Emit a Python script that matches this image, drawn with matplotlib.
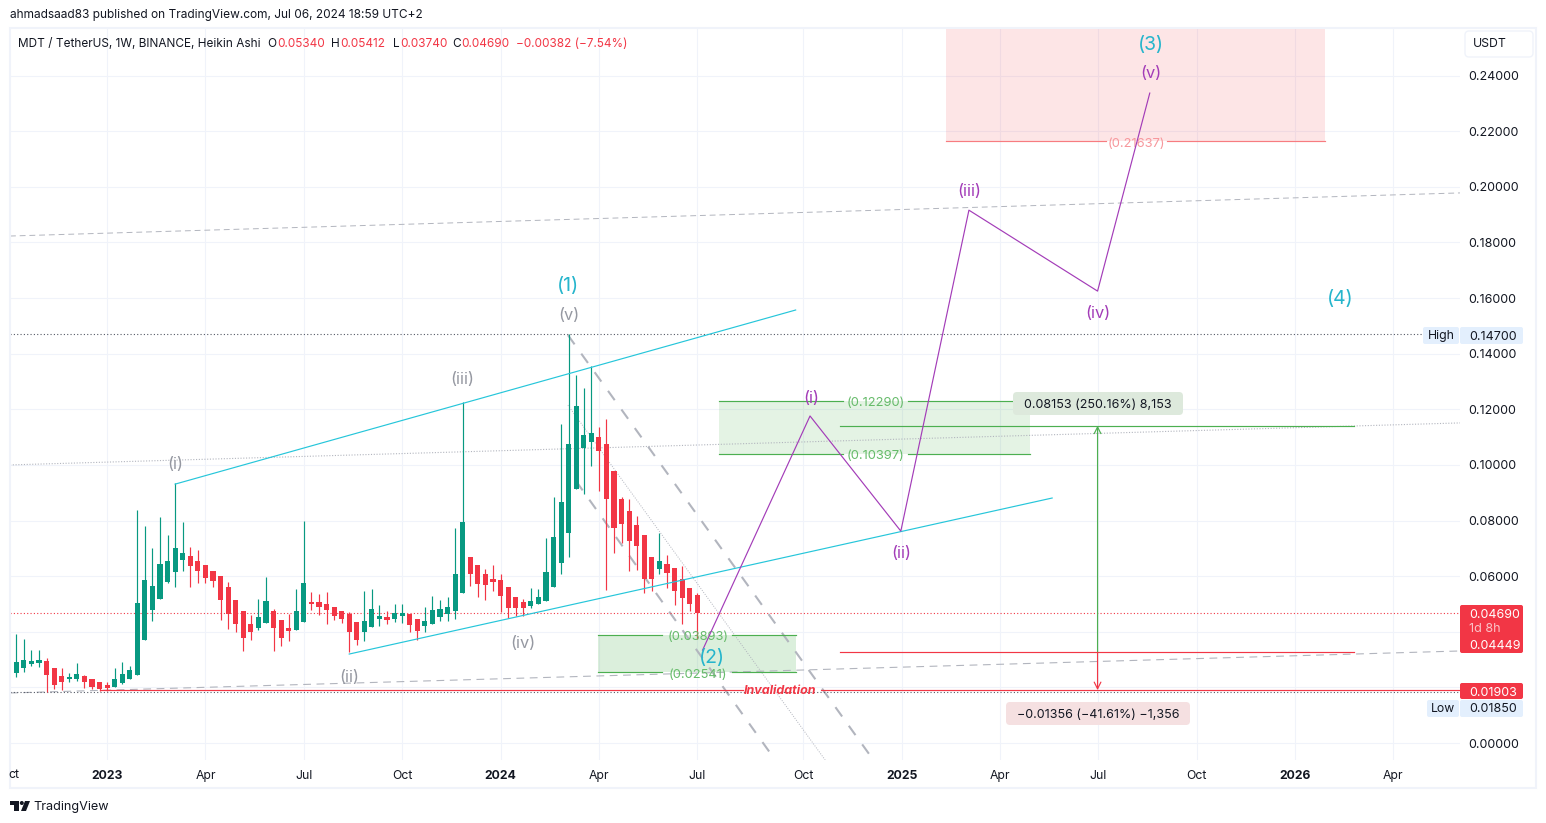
import matplotlib
matplotlib.use("Agg")
import matplotlib.pyplot as plt
from matplotlib.patches import Rectangle, FancyBboxPatch, Polygon, Circle

plt.rcParams["font.family"] = ["Inter", "DejaVu Sans"]

# weekly Heikin Ashi candles
opens = [.0252, .0270, .0284, .0288, .0295, .0270, .0241, .0230, .0230, .0241, .0230, .0219, .0209,
         .0201, .0216, .0230, .0244, .0370, .0478, .0518, .0579, .0615, .0658, .0672, .0654, .0640,
         .0618, .0600, .0561, .0514, .0475, .0428, .0413, .0431, .0475, .0442, .0413, .0406, .0435,
         .0507, .0507, .0500, .0489, .0475, .0464, .0435, .0399, .0417, .0446, .0453, .0446, .0457,
         .0464, .0446, .0421, .0428, .0453, .0464, .0475, .0539, .0669, .0640, .0608, .0590, .0586,
         .0561, .0525, .0507, .0493, .0500, .0511, .0561, .0647, .0755, .0913, .1061, .1082, .1100,
         .1075, .0978, .0877, .0834, .0784, .0748, .0669, .0626, .0644, .0629, .0590, .0557, .0534]
highs = [.0392, .0374, .0334, .0334, .0306, .0270, .0270, .0252, .0288, .0244, .0230, .0219, .0219,
         .0270, .0291, .0277, .0838, .0780, .0701, .0813, .0748, .0934, .0795, .0705, .0694, .0640,
         .0618, .0600, .0579, .0514, .0475, .0460, .0518, .0597, .0482, .0442, .0464, .0554, .0798,
         .0543, .0536, .0543, .0489, .0475, .0471, .0435, .0547, .0554, .0496, .0475, .0500, .0500,
         .0464, .0446, .0489, .0529, .0514, .0525, .0773, .1226, .0669, .0640, .0626, .0640, .0608,
         .0561, .0525, .0518, .0557, .0554, .0737, .0884, .1147, .1470, .1323, .1276, .1354, .1136,
         .1165, .0978, .0884, .0877, .0816, .0748, .0669, .0755, .0676, .0629, .0636, .0557, .05412]
lows = [.0237, .0255, .0277, .0273, .0185, .0194, .0191, .0219, .0223, .0198, .0194, .0186, .0186,
        .0201, .0212, .0230, .0244, .0370, .0439, .0518, .0575, .0561, .0618, .0561, .0575, .0575,
        .0561, .0442, .0410, .0399, .0331, .0370, .0406, .0431, .0331, .0349, .0367, .0406, .0435,
        .0478, .0460, .0428, .0442, .0431, .0327, .0352, .0367, .0417, .0421, .0428, .0435, .0431,
        .0399, .0370, .0399, .0428, .0439, .0439, .0446, .0539, .0565, .0525, .0514, .0547, .0471,
        .0449, .0457, .0457, .0485, .0500, .0511, .0561, .0608, .0669, .0913, .0895, .0996, .0906,
        .0550, .0683, .0719, .0618, .0622, .0539, .0547, .0608, .0557, .0496, .0428, .0475, .0374]
closes = [.0291, .0298, .0295, .0298, .0244, .0209, .0219, .0237, .0248, .0219, .0201, .0194, .0198,
          .0230, .0248, .0262, .0503, .0586, .0565, .0644, .0654, .0701, .0683, .0636, .0618, .0593,
          .0582, .0514, .0464, .0428, .0378, .0399, .0453, .0511, .0413, .0378, .0403, .0475, .0575,
          .0500, .0489, .0478, .0457, .0446, .0399, .0370, .0439, .0482, .0457, .0442, .0467, .0467,
          .0424, .0403, .0439, .0478, .0482, .0489, .0608, .0795, .0608, .0572, .0568, .0579, .0529,
          .0485, .0485, .0485, .0511, .0525, .0615, .0741, .0867, .1075, .1212, .1107, .1115, .1050,
          .0877, .0773, .0787, .0726, .0708, .0590, .0590, .0654, .0611, .0547, .0521, .0500, .0469]

price_ticks = [0.0, 0.02, 0.04, 0.06, 0.08, 0.10, 0.12, 0.14, 0.16, 0.18, 0.20, 0.22, 0.24]
price_labels = ["0.00000", "", "", "0.06000", "0.08000", "0.10000", "0.12000", "0.14000",
                "0.16000", "0.18000", "0.20000", "0.22000", "0.24000"]
time_ticks = [12, 25, 38, 51, 64, 77, 90, 104, 117, 130, 143, 156, 169, 182]
time_labels = ["2023", "Apr", "Jul", "Oct", "2024", "Apr", "Jul", "Oct", "2025", "Apr", "Jul",
               "Oct", "2026", "Apr"]
bold_years = ["2023", "2024", "2025", "2026"]

# drawings, x in weeks from the first candle, y in price
upper_x, upper_y = [21, 103], [.0931, .1557]
lower_x, lower_y = [44, 136.9], [.0320, .0881]
wave_x = [90.7, 104.9, 116.9, 125.9, 142.9, 149.8]
wave_y = [.0334, .1176, .0762, .1916, .1625, .2337]
dash_top_x, dash_top_y = [-0.83, 190.8], [.1823, .1978]
dash_low_x, dash_low_y = [-0.83, 190.8], [.0180, .0331]
dot_mid_x, dot_mid_y = [-0.83, 190.8], [.1000, .1151]
fork_right_x, fork_right_y = [72.9, 112.8], [.1467, -.0043]
fork_left_x, fork_left_y = [73.97, 100.3], [.0942, -.0061]
fork_dot_x, fork_dot_y = [72.9, 106.9], [.1215, -.0061]

last_price = 0.0469
high_price = 0.147
low_price = 0.0185
stop_price = 0.01903
entry_price = 0.03259
target_price = 0.11412
pos_x = [108.9, 176.8]
arrow_x = 142.9

cyan_labels = [("(1)", 72.9, .1643), ("(2)", 91.9, .0306), ("(3)", 149.9, .2510), ("(4)", 174.9, .1597)]
gray_labels = [("(i)", 21, .1002), ("(ii)", 44, .0236), ("(iii)", 59, .1307), ("(iv)", 67, .0358), ("(v)", 73, .1537)]
purple_labels = [("(i)", 105, .1239), ("(ii)", 117, .0682), ("(iii)", 126, .1983), ("(iv)", 143, .1545), ("(v)", 150, .2408)]

GREEN = "#089981"
RED = "#f23645"
CYAN = "#26c6da"
PURPLE = "#a33cb8"
GRAY = "#b2b5be"
FIB_GREEN = "#4caf50"
TXT = "#131722"
GRID = "#f0f3fa"

fig = plt.figure(figsize=(15.46, 8.23), dpi=100, facecolor="white")
ax = fig.add_axes([10 / 1546, 63 / 823, 1450 / 1546, 732 / 823])
ax.set_xlim(-0.83, 190.8)
ax.set_ylim(-0.0061, 0.2571)
for s in ax.spines.values():
    s.set_visible(False)
ax.set_axisbelow(True)
ax.grid(True, color=GRID, lw=0.75)
ax.set_yticks(price_ticks, price_labels)
ax.set_xticks(time_ticks, time_labels)
ax.yaxis.tick_right()
ax.tick_params(axis="y", length=0, pad=6, labelsize=9.0, labelcolor=TXT)
ax.tick_params(axis="x", length=0, pad=7.5, labelsize=8.8, labelcolor=TXT)
for lab in ax.get_xticklabels():
    if lab.get_text() in bold_years:
        lab.set_fontweight("bold")

# candles
for i in range(len(opens)):
    col = GREEN if closes[i] >= opens[i] else RED
    ax.vlines(i, lows[i], highs[i], color=col, lw=0.85, zorder=3)
    ax.bar(i, abs(closes[i] - opens[i]), bottom=min(opens[i], closes[i]), width=0.68, color=col, lw=0, zorder=3)

# fib boxes
ax.add_patch(Rectangle((76.9, .02541), 26.1, .03893 - .02541, fc="#4caf50", alpha=0.2, lw=0, zorder=1))
ax.add_patch(Rectangle((92.9, .10397), 41.1, .1229 - .10397, fc="#4caf50", alpha=0.15, lw=0, zorder=1))
ax.add_patch(Rectangle((122.9, .21637), 50.0, .0407, fc="#f23645", alpha=0.13, lw=0, zorder=1))
for y in [.03893, .02541]:
    ax.plot([76.9, 85.3], [y, y], color=FIB_GREEN, lw=0.85, zorder=4)
    ax.plot([94.6, 103], [y, y], color=FIB_GREEN, lw=0.85, zorder=4)
    ax.text(90.1, y - .0008, f"({y:.5f})", color="#66bb6a", fontsize=9.3, ha="center", va="center", zorder=5)
for y in [.1229, .10397]:
    ax.plot([92.9, 109.2], [y, y], color=FIB_GREEN, lw=0.85, zorder=4)
    ax.plot([117.8, 134], [y, y], color=FIB_GREEN, lw=0.85, zorder=4)
    ax.text(113.6, y - .0008, f"({y:.5f})", color="#66bb6a", fontsize=9.3, ha="center", va="center", zorder=5)
ax.plot([122.9, 144], [.21637, .21637], color="#f77c80", lw=0.85, zorder=4)
ax.plot([152.1, 172.9], [.21637, .21637], color="#f77c80", lw=0.85, zorder=4)
ax.text(148, .21557, "(0.21637)", color="#f7979c", fontsize=9.3, ha="center", va="center", zorder=5)

# trend lines
ax.plot(upper_x, upper_y, color=CYAN, lw=0.85, zorder=4)
ax.plot(lower_x, lower_y, color=CYAN, lw=0.85, zorder=4)
ax.plot(dash_top_x, dash_top_y, color=GRAY, lw=0.7, ls=(0, (6, 4)), zorder=2)
ax.plot(dash_low_x, dash_low_y, color=GRAY, lw=0.8, ls=(0, (7, 5)), zorder=2)
ax.plot(dot_mid_x, dot_mid_y, color=GRAY, lw=0.8, ls=(0, (1, 1.5)), zorder=2)
ax.plot(fork_right_x, fork_right_y, color=GRAY, lw=1.5, ls=(0, (5.5, 5.5)), zorder=2)
ax.plot(fork_left_x, fork_left_y, color=GRAY, lw=1.5, ls=(0, (5.5, 5.5)), zorder=2)
ax.plot(fork_dot_x, fork_dot_y, color=GRAY, lw=0.7, ls=(0, (1, 1.5)), zorder=2)
ax.plot(wave_x, wave_y, color=PURPLE, lw=0.85, zorder=5)

# horizontal price lines
ax.axhline(last_price, color=RED, lw=0.8, ls=(0, (1, 2)), zorder=2)
ax.axhline(high_price, color="#555a66", lw=0.8, ls=(0, (1, 2)), zorder=2)
ax.axhline(low_price, color="#555a66", lw=0.8, ls=(0, (1, 2)), zorder=2)
ax.plot([11, 96], [stop_price, stop_price], color=RED, lw=0.85, zorder=4)
ax.plot([106.3, 190.8], [stop_price, stop_price], color=RED, lw=0.85, zorder=4)
ax.text(100.9, stop_price - .0003, "Invalidation", color=RED, fontsize=9.0, fontweight="bold", fontstyle="italic",
        ha="center", va="center", zorder=6)

# long position tool
ax.plot(pos_x, [target_price, target_price], color=FIB_GREEN, lw=0.85, zorder=4)
ax.plot(pos_x, [entry_price, entry_price], color=RED, lw=0.85, zorder=4)
ax.annotate("", (arrow_x, target_price), (arrow_x, entry_price),
            arrowprops=dict(arrowstyle="->", color=FIB_GREEN, lw=0.85, shrinkA=0, shrinkB=0, mutation_scale=12), zorder=5)
ax.annotate("", (arrow_x, stop_price), (arrow_x, entry_price),
            arrowprops=dict(arrowstyle="->", color=RED, lw=0.85, shrinkA=0, shrinkB=0, mutation_scale=12), zorder=5)

# wave labels
for t, x, y in cyan_labels:
    ax.text(x, y, t, color="#26b5cc", fontsize=14, ha="center", va="center", zorder=7)
for t, x, y in gray_labels:
    ax.text(x, y, t, color="#9598a1", fontsize=11.8, ha="center", va="center", zorder=7)
for t, x, y in purple_labels:
    ax.text(x, y, t, color=PURPLE, fontsize=11.8, ha="center", va="center", zorder=7)

# everything around the plot, in pixels
top = fig.add_axes([0, 0, 1, 1], zorder=10)
top.set_xlim(0, 1546)
top.set_ylim(823, 0)
top.axis("off")
top.patch.set_alpha(0)
top.add_patch(Rectangle((10, 27.5), 1526, 760.5, fc="none", ec=GRID, lw=1.5))


def tag(x0, y0, x1, y1, fc, r=2):
    top.add_patch(FancyBboxPatch((x0 + r, y0 + r), x1 - x0 - 2 * r, y1 - y0 - 2 * r,
                                 boxstyle=f"round,pad={r},rounding_size={r}", fc=fc, ec="none"))


tag(1460, 605, 1523, 653, RED)
tag(1460, 683, 1523, 699, RED)
tag(1460, 700, 1523, 717, "#e3effd")
tag(1427, 700, 1459, 717, "#e3effd")
tag(1460, 327, 1523, 344, "#e3effd")
tag(1423, 327, 1459, 344, "#e3effd")
for txt, y, col in [("0.04690", 615, "white"), ("1d 8h", 629, "#fbc4c8"), ("0.04449", 646, "white"),
                    ("0.01903", 692.5, "white"), ("0.01850", 709.5, TXT), ("0.14700", 337, TXT)]:
    top.text(1469, y, txt, color=col, fontsize=9.0, ha="left", va="center")
top.text(1443, 709, "Low", color=TXT, fontsize=8.8, ha="center", va="center")
top.text(1441, 336, "High", color=TXT, fontsize=8.8, ha="center", va="center")
top.text(13.5, 775.5, "ct", color=TXT, fontsize=8.8, ha="center", va="center")

# position labels
tag(1013, 392, 1183, 415, "#dde9dc", r=4)
top.text(1098, 404.5, "0.08153 (250.16%) 8,153", color=TXT, fontsize=9.0, ha="center", va="center")
tag(1006, 702, 1190, 725, "#f5e0e1", r=4)
top.text(1098, 714.5, "\u22120.01356 (\u221241.61%) \u22121,356", color=TXT, fontsize=9.0, ha="center", va="center")

# currency button
top.add_patch(FancyBboxPatch((1468, 34), 62, 20, boxstyle="round,pad=3,rounding_size=4", fc="white", ec=GRID, lw=1))
top.text(1473, 44, "USDT", color=TXT, fontsize=8.8, ha="left", va="center")

# header and legend
top.text(10, 15, "ahmadsaad83 published on TradingView.com, Jul 06, 2024 18:59 UTC+2", color=TXT,
         fontsize=8.55, ha="left", va="center")
top.text(18, 44, "MDT / TetherUS, 1W, BINANCE, Heikin Ashi", color=TXT, fontsize=8.5, ha="left", va="center")
for txt, x, col in [("O", 267, TXT), ("0.05340", 277, RED), ("H", 331, TXT), ("0.05412", 340, RED),
                    ("L", 393, TXT), ("0.03740", 400, RED), ("C", 452, TXT), ("0.04690", 461, RED),
                    ("\u22120.00382 (\u22127.54%)", 516, RED)]:
    top.text(x, 44, txt, color=col, fontsize=8.5, ha="left", va="center")

# logo
top.add_patch(Rectangle((10, 801), 9, 4, fc=TXT, ec="none"))
top.add_patch(Rectangle((14, 801), 5, 10, fc=TXT, ec="none"))
top.add_patch(Circle((21.8, 803), 2, fc=TXT, ec="none"))
top.add_patch(Polygon([(25, 801), (30, 801), (26, 811), (21, 811)], fc=TXT, ec="none"))
top.text(33, 807, "TradingView", color=TXT, fontsize=9.1, ha="left", va="center")

fig.savefig("out.png", dpi=100)
